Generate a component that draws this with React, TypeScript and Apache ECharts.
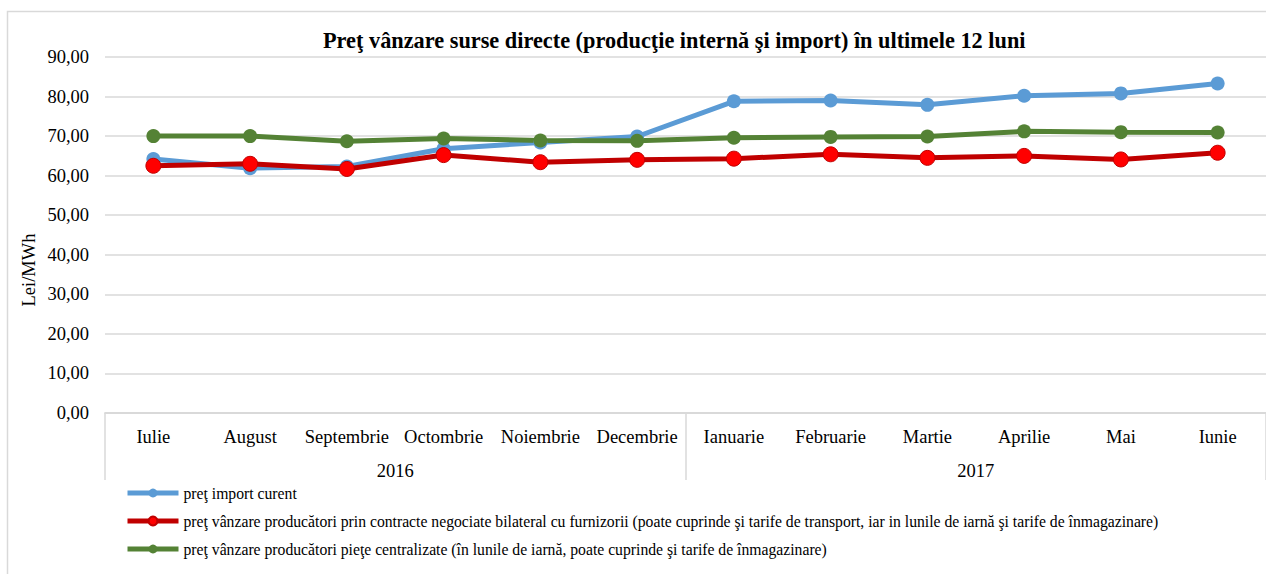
import React, { useEffect, useRef } from "react";
import * as echarts from "echarts";

const months = ["Iulie", "August", "Septembrie", "Octombrie", "Noiembrie", "Decembrie", "Ianuarie", "Februarie", "Martie", "Aprilie", "Mai", "Iunie"];
const years = ["2016", "2017"];
const importCurent = [64.2, 61.9, 62.3, 66.8, 68.4, 69.9, 78.8, 79.0, 77.9, 80.2, 80.8, 83.3];
const contracteBilaterale = [62.5, 63.0, 61.7, 65.2, 63.4, 64.0, 64.3, 65.4, 64.5, 65.0, 64.1, 65.8];
const pieteCentralizate = [70.0, 70.0, 68.7, 69.4, 68.9, 68.8, 69.6, 69.8, 69.9, 71.2, 71.0, 70.9];
const seriesNames = [
  "preţ import curent",
  "preţ vânzare producători prin contracte negociate bilateral cu furnizorii (poate cuprinde şi tarife de transport, iar in lunile de iarnă şi tarife de înmagazinare)",
  "preţ vânzare producători pieţe centralizate (în lunile de iarnă, poate cuprinde şi tarife de înmagazinare)",
];
const titleText = "Preţ vânzare surse directe (producţie internă şi import) în ultimele 12 luni";
const yAxisTitle = "Lei/MWh";

const FONT = "'Liberation Serif', 'Times New Roman', serif";

export default function App() {
  const ref = useRef<HTMLDivElement>(null);
  useEffect(() => {
    if (!ref.current) return;
    const chart = echarts.init(ref.current, null, { renderer: "svg" });
    chart.setOption({
      animation: false,
      backgroundColor: "#ffffff",
      textStyle: { fontFamily: FONT },
      title: {
        text: titleText,
        left: 318,
        top: 24,
        textStyle: { fontFamily: FONT, fontSize: 22.3, fontWeight: "bold", color: "#000" },
      },
      graphic: [
        {
          type: "rect",
          shape: { x: 7.5, y: 11.5, width: 1300, height: 600 },
          style: { fill: "none", stroke: "#d9d9d9", lineWidth: 1.5 },
          silent: true,
          z: -1,
        },
        {
          type: "text",
          x: 29,
          y: 270,
          rotation: Math.PI / 2,
          style: {
            text: yAxisTitle,
            fontFamily: FONT,
            fontSize: 18.5,
            fill: "#000",
            align: "center",
            verticalAlign: "middle",
          },
        },
      ],
      legend: {
        orient: "vertical",
        left: 125,
        top: 485,
        padding: 0,
        itemWidth: 51,
        itemHeight: 11,
        itemGap: 12,
        lineStyle: { width: 5 },
        textStyle: { fontFamily: FONT, fontSize: 15.7, color: "#000" },
        data: seriesNames,
      },
      grid: { left: 105, right: -7, top: 57, bottom: 161, containLabel: false },
      xAxis: [
        {
          type: "category",
          data: months,
          position: "bottom",
          boundaryGap: true,
          axisLine: { show: true, lineStyle: { color: "#d9d9d9", width: 1.5 } },
          axisTick: { show: false },
          axisLabel: { interval: 0, margin: 14, fontFamily: FONT, fontSize: 18.5, color: "#000" },
        },
        {
          type: "category",
          data: years,
          position: "bottom",
          boundaryGap: true,
          axisLine: { show: true, lineStyle: { color: "#d9d9d9", width: 1.5 } },
          axisTick: { show: true, length: 67, interval: 0, lineStyle: { color: "#d9d9d9", width: 1.5 } },
          axisLabel: { interval: 0, margin: 48, fontFamily: FONT, fontSize: 18.5, color: "#000" },
        },
      ],
      yAxis: {
        type: "value",
        min: 0,
        max: 90,
        interval: 10,
        axisLine: { show: false },
        axisTick: { show: false },
        splitLine: { show: true, lineStyle: { color: "#d9d9d9", width: 1.5 } },
        axisLabel: {
          margin: 16,
          fontFamily: FONT,
          fontSize: 18.5,
          color: "#000",
          formatter: (v: number) => v.toFixed(2).replace(".", ","),
        },
      },
      series: [
        {
          name: seriesNames[0],
          type: "line",
          data: importCurent,
          xAxisIndex: 0,
          symbol: "circle",
          symbolSize: 14,
          lineStyle: { color: "#5b9bd5", width: 5 },
          itemStyle: { color: "#5b9bd5" },
        },
        {
          name: seriesNames[1],
          type: "line",
          data: contracteBilaterale,
          xAxisIndex: 0,
          symbol: "circle",
          symbolSize: 15,
          lineStyle: { color: "#c00000", width: 5 },
          itemStyle: { color: "#ff0000", borderColor: "#c00000", borderWidth: 1 },
        },
        {
          name: seriesNames[2],
          type: "line",
          data: pieteCentralizate,
          xAxisIndex: 0,
          symbol: "circle",
          symbolSize: 14,
          lineStyle: { color: "#548235", width: 5 },
          itemStyle: { color: "#548235" },
        },
      ],
    });
    return () => chart.dispose();
  }, []);
  return (
    <div
      ref={ref}
      style={{ position: "fixed", left: 0, top: 0, width: 1266, height: 574, overflow: "hidden" }}
    />
  );
}
